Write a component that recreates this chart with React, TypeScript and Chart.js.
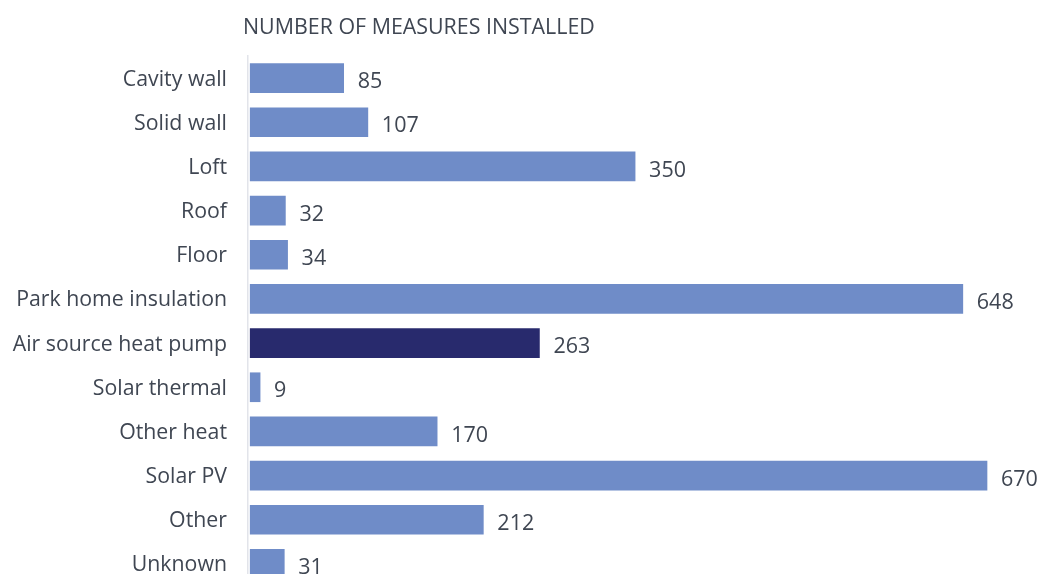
import React, { useEffect, useRef } from "react";
import { Chart, registerables } from "chart.js";

Chart.register(...registerables);

const categories = [
  "Cavity wall",
  "Solid wall",
  "Loft",
  "Roof",
  "Floor",
  "Park home insulation",
  "Air source heat pump",
  "Solar thermal",
  "Other heat",
  "Solar PV",
  "Other",
  "Unknown",
];
const measures = [85, 107, 350, 32, 34, 648, 263, 9, 170, 670, 212, 31];
const highlighted = "Air source heat pump";
const titleText = "NUMBER OF MEASURES INSTALLED";

const FONT = "'Open Sans', sans-serif";
const TEXT = "#3f4652";
const LIGHT = "#6f8cc8";
const DARK = "#282a6d";

export default function App() {
  const ref = useRef<HTMLCanvasElement | null>(null);
  useEffect(() => {
    document.body.style.overflow = "hidden";
    const overlay = {
      id: "overlay",
      afterDatasetsDraw(chart: any) {
        const ctx = chart.ctx;
        const meta = chart.getDatasetMeta(0);
        ctx.save();
        ctx.fillStyle = TEXT;
        ctx.font = `21.5px ${FONT}`;
        ctx.textAlign = "left";
        ctx.textBaseline = "middle";
        meta.data.forEach((bar: any, i: number) => {
          ctx.fillText(String(measures[i]), bar.x + 14, bar.y + 4);
        });
        ctx.font = `21.4px ${FONT}`;
        ctx.fillText(titleText, chart.chartArea.left - 5, 28);
        ctx.restore();
      },
    };
    const chart = new Chart(ref.current as HTMLCanvasElement, {
      type: "bar",
      data: {
        labels: categories,
        datasets: [
          {
            data: measures,
            backgroundColor: categories.map((c) => (c === highlighted ? DARK : LIGHT)),
            barThickness: 29,
            borderWidth: 0,
          },
        ],
      },
      options: {
        indexAxis: "y",
        animation: false,
        responsive: false,
        maintainAspectRatio: false,
        layout: { padding: { top: 56, right: 22, bottom: 4, left: 0 } },
        plugins: {
          legend: { display: false },
          tooltip: { enabled: false },
          title: { display: false },
        },
        scales: {
          x: {
            display: false,
            min: -2,
            max: 700,
            grid: { display: false },
          },
          y: {
            afterFit(scale: any) {
              scale.width = 248;
              scale.paddingTop = 0;
              scale.paddingBottom = 0;
            },
            grid: { display: false, drawTicks: false },
            border: { display: true, color: "#e2e4ea", width: 1.5 },
            ticks: {
              padding: 21,
              labelOffset: 1.5,
              color: TEXT,
              font: { family: FONT, size: 21.3 },
            },
          },
        },
      },
      plugins: [overlay],
    });
    return () => chart.destroy();
  }, []);
  return (
    <div style={{ position: "absolute", left: 0, top: 0, width: 1042, height: 574, overflow: "hidden" }}>
      <canvas ref={ref} width={1042} height={590} style={{ display: "block" }} />
    </div>
  );
}
